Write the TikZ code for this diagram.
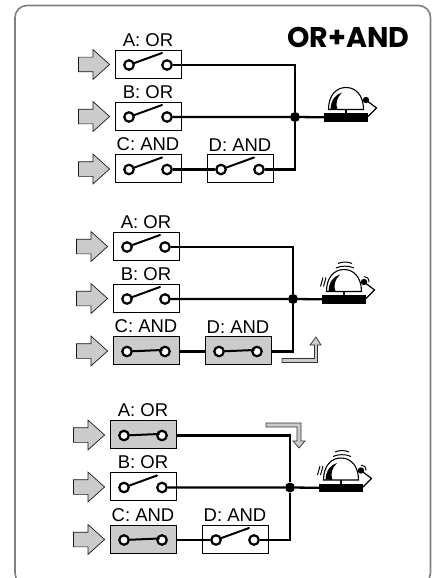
\documentclass[tikz,border=0pt]{standalone}
\usepackage{fontspec}
\setmainfont{Liberation Sans}
\newfontfamily\titlefont{Poppins}
\usetikzlibrary{positioning,calc,backgrounds,shapes.arrows}
\definecolor{boxgray}{HTML}{CBCBCB}
\definecolor{framegray}{HTML}{808080}
\def\closedword{closed}

\tikzset{
  bell/.pic={
    \draw[black, line width=1.1pt, fill=white] (-17.5,-8) .. controls (-17.5,-22) and (-10,-30) .. (0,-30)
        .. controls (10,-30) and (17.5,-22) .. (17.5,-8) -- cycle;
    \fill[black] (-15.5,-8.5) .. controls (-15,-17) and (-11,-23) .. (-4,-25)
        .. controls (-9,-20) and (-11,-14) .. (-8.5,-8) -- cycle;
    \draw[line width=1.1pt] (0,-8) -- (0,-4);
    \fill (20,-17.5) circle (3.2);
    \draw[line width=1.2pt] (20,-17.5) -- (30.5,-9.5) -- (22,-1);
  },
  ringing/.pic={
    \draw[line width=1pt] (-8,-31.5) .. controls (-3,-34) and (5,-34) .. (10,-31.5);
    \draw[line width=1pt] (-6,-36) .. controls (-2,-38) and (4,-38) .. (8,-36);
    \draw[line width=1pt] (-23.5,-13) -- (-21,-22);
    \draw[line width=1pt] (-20.5,-13) -- (-18,-22);
    \draw[line width=1pt] (20,-23) .. controls (23,-23) and (25,-21) .. (25,-17.5);
  }
}

% one switch: name, x, y, label, open or closed
\newcommand{\switchunit}[5]{
  \edef\swstate{#5}
  \ifx\swstate\closedword\def\swfill{boxgray}\else\def\swfill{none}\fi
  \node[switchbox, fill=\swfill] (#1) at (#2,#3) {};
  \node[switchlabel, above=0pt of #1] (#1t) {#4};
  \node[terminal] (#1l) at ($(#1)+(-19,1)$) {};
  \node[terminal] (#1r) at ($(#1)+(19,1)$) {};
  \ifx\swstate\closedword
    \draw[lever] (#1l) -- ($(#1r)+(-3,-1.5)$);
  \else
    \draw[lever] (#1l) -- ($(#1)+(14,-11)$);
  \fi
}

\begin{document}
\begin{tikzpicture}[x=1pt,y=-1pt]
    \tikzstyle{switchbox}=[draw=black,line width=0.8pt,minimum width=66pt,minimum height=28pt,inner sep=0pt]
    \tikzstyle{switchlabel}=[font=\fontsize{18.5}{19}\selectfont,inner sep=0pt,outer ysep=3pt]
    \tikzstyle{terminal}=[circle,draw=black,fill=white,line width=2.2pt,minimum size=9.5pt,inner sep=0pt]
    \tikzstyle{lever}=[line width=2pt,line cap=round]
    \tikzstyle{wire}=[line width=2.3pt]
    \tikzstyle{junction}=[circle,fill=black,minimum size=10pt,inner sep=0pt]
    \tikzstyle{inarrow}=[single arrow,draw=black!90,fill=boxgray,line width=0.7pt,inner xsep=0pt,inner ysep=7pt,
        minimum height=31pt,single arrow head extend=7.5pt,single arrow tip angle=84]
    \tikzstyle{bellbase}=[fill=black,minimum width=44pt,minimum height=8.5pt,inner sep=0pt]
    \tikzstyle{turnarrow}=[draw=black!80,fill=boxgray,line width=0.7pt]

    \useasboundingbox (0,0) rectangle (435,578);

    \draw[framegray,line width=1.6pt,rounded corners=12pt] (15,5.5) rectangle (430.5,585);

    \node[font=\titlefont\bfseries\fontsize{28.5}{30}\selectfont,inner sep=0pt] (title) at (348.5,37) {OR+AND};

    % the three panels
    \foreach \p/\px/\py/\stA/\stC/\stD in {1/148/64/open/open/open,2/146/246/open/closed/closed,3/143/434.5/closed/closed/open}{
    \begin{scope}[shift={(\px,\py)}]
        \switchunit{A\p}{0}{0}{A: OR}{\stA}
        \switchunit{B\p}{0}{52}{B: OR}{open}
        \switchunit{C\p}{0}{104.5}{C: AND}{\stC}
        \switchunit{D\p}{92}{104.5}{D: AND}{\stD}

        \foreach \name in {A,B,C}
            \node[inarrow] (I\name\p) at ($(\name\p)+(-58,0.5)$) {};

        \node[junction] (J\p) at (147,53) {};
        \node[bellbase] (R\p) at (198,53.5) {};
        \pic at (R\p) {bell};

        % wires run under the boxes
        \begin{scope}[on background layer]
            \draw[wire] (A\p r) -| (J\p);
            \draw[wire] (B\p r) -- (J\p) -- (R\p);
            \draw[wire] (C\p r) -- (D\p l);
            \draw[wire] (D\p r) -| (J\p);
        \end{scope}
    \end{scope}
    }

    \pic at (R2) {ringing};
    \pic at (R3) {ringing};

    \draw[turnarrow] (282,358.5) -- (314.5,358.5) -- (314.5,345) -- (310,345) -- (316,337) -- (321,345)
        -- (317.5,345) -- (317.5,362.5) -- (282,362.5) -- cycle;
    \draw[turnarrow] (266,423) -- (301,423) -- (301,441) -- (305,441) -- (299,448) -- (293,441)
        -- (297,441) -- (297,427) -- (266,427) -- cycle;
\end{tikzpicture}
\end{document}
